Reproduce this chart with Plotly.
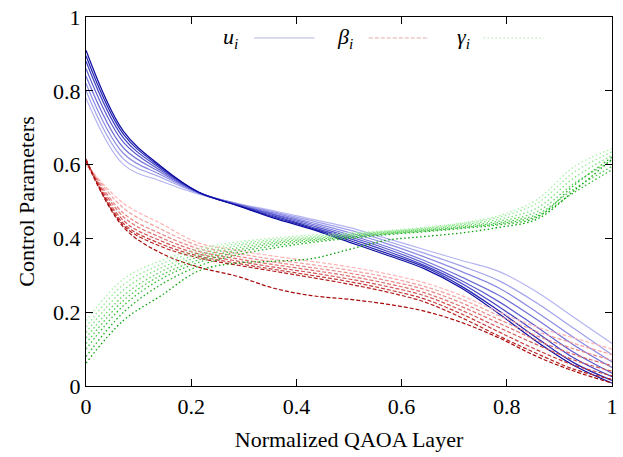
import plotly.graph_objects as go

# Normalized QAOA layer positions (15 layers)
layer_x = [0.0, 0.0714, 0.1429, 0.2143, 0.2857, 0.3571, 0.4286, 0.5,
           0.5714, 0.6429, 0.7143, 0.7857, 0.8571, 0.9286, 1.0]

# u_i curves (light -> dark)
u_vals = [
    [0.780, 0.600, 0.555, 0.520, 0.495, 0.475, 0.452, 0.430, 0.400, 0.370, 0.340, 0.310, 0.255, 0.185, 0.115],
    [0.800, 0.615, 0.565, 0.522, 0.495, 0.472, 0.448, 0.423, 0.393, 0.360, 0.325, 0.285, 0.225, 0.155, 0.085],
    [0.820, 0.630, 0.572, 0.523, 0.494, 0.469, 0.443, 0.416, 0.386, 0.350, 0.310, 0.265, 0.200, 0.130, 0.065],
    [0.840, 0.645, 0.578, 0.524, 0.493, 0.466, 0.439, 0.410, 0.378, 0.340, 0.295, 0.245, 0.180, 0.110, 0.050],
    [0.860, 0.660, 0.583, 0.524, 0.492, 0.464, 0.435, 0.405, 0.372, 0.333, 0.285, 0.228, 0.160, 0.090, 0.035],
    [0.880, 0.672, 0.588, 0.525, 0.491, 0.461, 0.431, 0.400, 0.366, 0.327, 0.278, 0.214, 0.145, 0.075, 0.025],
    [0.895, 0.682, 0.592, 0.525, 0.490, 0.458, 0.428, 0.395, 0.360, 0.323, 0.270, 0.203, 0.130, 0.062, 0.015],
    [0.910, 0.690, 0.595, 0.525, 0.490, 0.455, 0.425, 0.390, 0.355, 0.318, 0.265, 0.195, 0.120, 0.055, 0.008],
]

# beta_i curves (light -> dark)
beta_vals = [
    [0.600, 0.495, 0.440, 0.388, 0.368, 0.352, 0.338, 0.323, 0.304, 0.280, 0.245, 0.200, 0.160, 0.130, 0.100],
    [0.605, 0.482, 0.425, 0.380, 0.360, 0.343, 0.329, 0.314, 0.295, 0.270, 0.235, 0.190, 0.148, 0.115, 0.085],
    [0.607, 0.468, 0.412, 0.372, 0.352, 0.336, 0.321, 0.306, 0.286, 0.262, 0.225, 0.180, 0.136, 0.100, 0.070],
    [0.610, 0.458, 0.402, 0.365, 0.345, 0.329, 0.314, 0.298, 0.278, 0.253, 0.215, 0.170, 0.124, 0.085, 0.055],
    [0.612, 0.448, 0.393, 0.358, 0.339, 0.322, 0.307, 0.290, 0.270, 0.245, 0.205, 0.158, 0.112, 0.070, 0.040],
    [0.613, 0.440, 0.385, 0.352, 0.333, 0.316, 0.300, 0.283, 0.262, 0.236, 0.195, 0.146, 0.098, 0.056, 0.028],
    [0.615, 0.435, 0.378, 0.347, 0.328, 0.311, 0.294, 0.276, 0.255, 0.228, 0.185, 0.135, 0.088, 0.045, 0.018],
    [0.610, 0.430, 0.360, 0.322, 0.298, 0.265, 0.245, 0.235, 0.222, 0.203, 0.172, 0.130, 0.080, 0.040, 0.008],
]

# gamma_i curves (light -> dark)
gamma_vals = [
    [0.177, 0.290, 0.340, 0.372, 0.390, 0.401, 0.409, 0.415, 0.421, 0.430, 0.442, 0.462, 0.505, 0.595, 0.643],
    [0.160, 0.275, 0.330, 0.365, 0.385, 0.397, 0.405, 0.412, 0.419, 0.428, 0.440, 0.458, 0.495, 0.580, 0.635],
    [0.145, 0.260, 0.320, 0.357, 0.380, 0.393, 0.402, 0.410, 0.418, 0.426, 0.437, 0.452, 0.482, 0.565, 0.625],
    [0.130, 0.245, 0.310, 0.350, 0.374, 0.389, 0.399, 0.408, 0.416, 0.424, 0.434, 0.447, 0.472, 0.550, 0.610],
    [0.115, 0.232, 0.300, 0.342, 0.368, 0.385, 0.396, 0.405, 0.414, 0.422, 0.431, 0.443, 0.465, 0.535, 0.595],
    [0.100, 0.218, 0.290, 0.335, 0.362, 0.380, 0.393, 0.403, 0.412, 0.420, 0.429, 0.440, 0.460, 0.525, 0.586],
    [0.080, 0.200, 0.275, 0.325, 0.355, 0.374, 0.389, 0.400, 0.410, 0.418, 0.427, 0.437, 0.457, 0.545, 0.620],
    [0.062, 0.178, 0.245, 0.312, 0.333, 0.338, 0.345, 0.370, 0.395, 0.405, 0.415, 0.430, 0.452, 0.530, 0.615],
]

blue_colors = ["#b4b4f2", "#a0a0ec", "#8a8ae4", "#7272da", "#5a5ace", "#4040c2", "#2424b2", "#0c0ca2"]
red_colors = ["#ffb4b4", "#f4a0a0", "#ea8686", "#de6c6c", "#d25454", "#c43a3a", "#b62020", "#a80a0a"]
green_colors = ["#a8f2a8", "#92ea92", "#7ae07a", "#62d462", "#4ac84a", "#32bc32", "#1cb01c", "#06a006"]

x_ticks = [0, 0.2, 0.4, 0.6, 0.8, 1]
x_labels = ["0", "0.2", "0.4", "0.6", "0.8", "1"]
y_ticks = [0, 0.2, 0.4, 0.6, 0.8, 1]
y_labels = ["0", "0.2", "0.4", "0.6", "0.8", "1"]

FONT = "Liberation Serif, Times New Roman, Times, serif"

fig = go.Figure()

for vals, col in zip(u_vals, blue_colors):
    fig.add_trace(go.Scatter(x=layer_x, y=vals, mode="lines",
                             line=dict(color=col, width=1.2, shape="spline", smoothing=1.0),
                             showlegend=False, hoverinfo="skip"))
for vals, col in zip(beta_vals, red_colors):
    fig.add_trace(go.Scatter(x=layer_x, y=vals, mode="lines",
                             line=dict(color=col, width=1.2, dash="4px,2px", shape="spline", smoothing=1.0),
                             showlegend=False, hoverinfo="skip"))
for vals, col in zip(gamma_vals, green_colors):
    fig.add_trace(go.Scatter(x=layer_x, y=vals, mode="lines",
                             line=dict(color=col, width=1.3, dash="1.5px,2.5px", shape="spline", smoothing=1.0),
                             showlegend=False, hoverinfo="skip"))

# Manual gnuplot-style key: label then sample line
def px2paper_x(px):
    return (px - 86) / 532.0

def px2paper_y(py):
    return (386 - py) / 372.0

key = [
    ("<i>u</i><sub><i>i</i></sub>", 242, 256, 317, "#7272cc", "solid"),
    ("<i>β</i><sub><i>i</i></sub>", 358, 372, 433, "#cc6666", "4px,2px"),
    ("<i>γ</i><sub><i>i</i></sub>", 476, 488, 549, "#70d070", "1.5px,2.5px"),
]
for label, tx, x0, x1, col, dash in key:
    fig.add_annotation(x=px2paper_x(tx), y=px2paper_y(35), xref="paper", yref="paper",
                       text=label, showarrow=False, xanchor="right", yanchor="middle",
                       font=dict(family=FONT, size=22, color="black"))
    fig.add_shape(type="line", xref="paper", yref="paper",
                  x0=px2paper_x(x0), x1=px2paper_x(x1), y0=px2paper_y(35), y1=px2paper_y(35),
                  line=dict(color=col, width=1.6, dash=dash))

fig.update_xaxes(range=[0, 1], tickvals=x_ticks, ticktext=x_labels,
                 showline=True, linecolor="black", linewidth=1.2, mirror="ticks",
                 ticks="inside", ticklen=7, tickwidth=1, tickcolor="black",
                 showgrid=False, zeroline=False,
                 tickfont=dict(family=FONT, size=22, color="black"),
                 title_text="Normalized QAOA Layer",
                 title_font=dict(family=FONT, size=22, color="black"),
                 title_standoff=14)
fig.update_yaxes(range=[0, 1], tickvals=y_ticks, ticktext=y_labels,
                 showline=True, linecolor="black", linewidth=1.2, mirror="ticks",
                 ticks="inside", ticklen=7, tickwidth=1, tickcolor="black",
                 showgrid=False, zeroline=False,
                 tickfont=dict(family=FONT, size=22, color="black"),
                 title_text="Control Parameters",
                 title_font=dict(family=FONT, size=22, color="black"),
                 title_standoff=12)

fig.update_layout(width=623, height=457, margin=dict(l=86, r=5, t=14, b=71),
                  template="simple_white",
                  font=dict(family=FONT, size=22, color="black"),
                  paper_bgcolor="white", plot_bgcolor="white", showlegend=False)

fig.write_html("out.html")
